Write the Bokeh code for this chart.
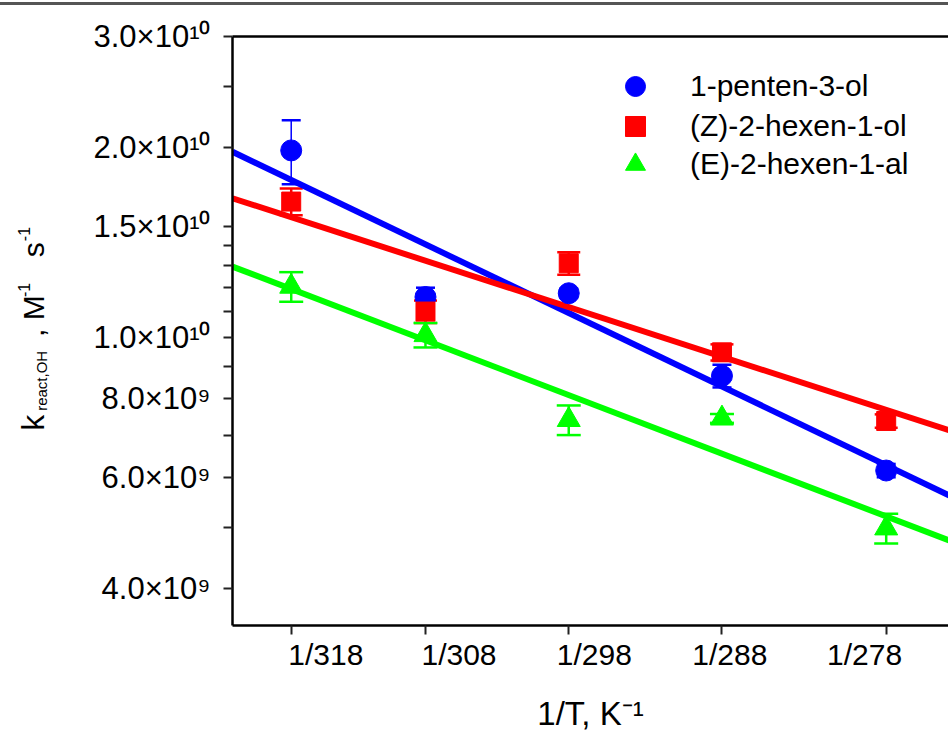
import numpy as np
from bokeh.plotting import figure
from bokeh.models import (Range1d, FixedTicker, LinearAxis, Legend, LegendItem,
                          Whisker, TeeHead, ColumnDataSource, Div)
from bokeh.core.properties import value
from bokeh.layouts import column, row
from bokeh.embed import file_html
from bokeh.resources import INLINE

# ---------------- data ----------------
temperatures_K = [318, 308, 298, 288, 278]
xtick_labels = ["1/318", "1/308", "1/298", "1/288", "1/278"]
series_names = ["1-penten-3-ol", "(Z)-2-hexen-1-ol", "(E)-2-hexen-1-al"]

k_pentenol = [1.98e10, 1.16e10, 1.176e10, 8.70e9, 6.16e9]
err_pentenol = [2.3e9, 4.0e8, 2.0e8, 3.6e8, 1.5e8]
k_hexenol = [1.643e10, 1.10e10, 1.312e10, 9.48e9, 7.38e9]
err_hexenol = [8.0e8, 4.5e8, 5.4e8, 2.8e8, 1.8e8]
k_hexenal = [1.205e10, 1.01e10, 7.41e9, 7.45e9, 4.99e9]
err_hexenal = [6.5e8, 4.5e8, 4.0e8, 1.2e8, 2.7e8]

# Arrhenius fit lines, values read at the ends of the 1/T axis
fit_invT = [0.0031, 0.00365]
fit_pentenol = [1.970e10, 5.56e9]
fit_hexenol = [1.663e10, 7.08e9]
fit_hexenal = [1.296e10, 4.73e9]

y_major = [4e9, 6e9, 8e9, 1e10, 1.5e10, 2e10, 3e10]
y_major_labels = ["4.0×10⁹", "6.0×10⁹", "8.0×10⁹", "1.0×10¹⁰",
                  "1.5×10¹⁰", "2.0×10¹⁰", "3.0×10¹⁰"]
y_minor = [5e9, 7e9, 9e9, 1.1e10, 1.2e10, 1.3e10, 1.4e10, 2.5e10]

inv_T = [1.0 / t for t in temperatures_K]

# ---------------- layout ----------------
FONT = "Liberation Sans"
RULE_H = 6
PAGE_W, PAGE_H = 948, 734
TITLE_W = 60                              # narrow panel holding the y title
FRAME_LEFT, FRAME_TOP = 232, 36           # page pixels
FRAME_W, FRAME_H = 716, 590
X0, X1 = 0.0031, 0.0036445
Y0, Y1 = 3.5e9, 3.0e10

MAIN_W = PAGE_W - TITLE_W
MAIN_H = PAGE_H - RULE_H
BORDER_TOP = FRAME_TOP - RULE_H
BORDER_BOTTOM = MAIN_H - BORDER_TOP - FRAME_H

p = figure(width=MAIN_W, height=MAIN_H, y_axis_type="log",
           x_range=Range1d(X0, X1), y_range=Range1d(Y0, Y1),
           output_backend="svg", toolbar_location=None,
           min_border_left=FRAME_LEFT - TITLE_W, min_border_right=0,
           min_border_top=BORDER_TOP, min_border_bottom=BORDER_BOTTOM)
p.outline_line_color = None
p.grid.visible = False
p.background_fill_color = "white"
p.border_fill_color = "white"

# y axis
ya = p.yaxis[0]
ya.ticker = FixedTicker(ticks=y_major, minor_ticks=y_minor)
ya.major_label_overrides = {float(v): s for v, s in zip(y_major, y_major_labels)}
ya.axis_line_width = 2.5
ya.axis_line_color = "black"
ya.major_tick_in = 0
ya.major_tick_out = 9
ya.minor_tick_in = 0
ya.minor_tick_out = 9
ya.major_tick_line_width = 2
ya.minor_tick_line_width = 2
ya.major_tick_line_color = "#222222"
ya.minor_tick_line_color = "#222222"
ya.major_label_standoff = 13
ya.major_label_text_font = FONT
ya.major_label_text_font_size = "31px"
ya.major_label_text_color = "black"

# x axis: tick marks at the 1/T values
xa = p.xaxis[0]
xa.ticker = FixedTicker(ticks=inv_T, minor_ticks=[])
xa.major_label_overrides = {float(v): "" for v in inv_T}
xa.axis_line_width = 2.5
xa.axis_line_color = "black"
xa.major_tick_in = 0
xa.major_tick_out = 9
xa.major_tick_line_width = 2
xa.major_tick_line_color = "#222222"
xa.major_label_text_font_size = "1px"
xa.major_label_standoff = 0

# second bottom axis: the tick labels (evenly spaced in the original) + title
xtick_label_pos = [X0 + (px - FRAME_LEFT) * (X1 - X0) / FRAME_W
                   for px in (325.3, 458.5, 593.8, 729.3, 864.1)]
xb = LinearAxis(ticker=FixedTicker(ticks=xtick_label_pos, minor_ticks=[]),
                major_label_overrides={float(v): s for v, s in
                                       zip(xtick_label_pos, xtick_labels)},
                axis_line_color=None, major_tick_out=0, major_tick_in=0,
                major_label_standoff=3,
                major_label_text_font=FONT, major_label_text_font_size="30px",
                major_label_text_color="black",
                axis_label="1/T, K⁻¹", axis_label_standoff=21,
                axis_label_text_font=FONT, axis_label_text_font_size="33px",
                axis_label_text_font_style="normal",
                axis_label_text_color="black")
p.add_layout(xb, "below")

# top frame line
top = LinearAxis(ticker=FixedTicker(ticks=[]), axis_line_width=2.5,
                 axis_line_color="black", major_label_text_font_size="1px",
                 major_tick_out=0, major_tick_in=0)
p.add_layout(top, "above")

# fit lines
colors = ["#0000FF", "#FF0000", "#00FF00"]
for fit, c in zip([fit_pentenol, fit_hexenol, fit_hexenal], colors):
    p.line(fit_invT, fit, line_color=c, line_width=6)

# error bars
err_width = [1.5, 2.5, 2.5]
cap_size = [19, 23, 24]
for k, e, c, w, cs in zip([k_pentenol, k_hexenol, k_hexenal],
                          [err_pentenol, err_hexenol, err_hexenal],
                          colors, err_width, cap_size):
    src = ColumnDataSource(dict(x=inv_T,
                                upper=[a + b for a, b in zip(k, e)],
                                lower=[a - b for a, b in zip(k, e)]))
    wk = Whisker(source=src, base="x", upper="upper", lower="lower",
                 dimension="height", line_color=c, line_width=w,
                 upper_head=TeeHead(size=cs, line_color=c, line_width=2.5),
                 lower_head=TeeHead(size=cs, line_color=c, line_width=2.5))
    p.add_layout(wk)

# markers
r1 = p.scatter(inv_T, k_pentenol, marker="circle", size=21,
               fill_color=colors[0], line_color=colors[0])
r2 = p.scatter(inv_T, k_hexenol, marker="square", size=19,
               fill_color=colors[1], line_color=colors[1])
r3 = p.scatter(inv_T, k_hexenal, marker="triangle", size=23,
               fill_color=colors[2], line_color=colors[2])

# legend: one single-item legend per row (keeps marker size and row pitch)
legend_row_center = [87, 126.5, 165]      # page pixels
for name, r, cy in zip(series_names, [r1, r2, r3], legend_row_center):
    lg = Legend(items=[LegendItem(label=name, renderers=[r])],
                location=(378, FRAME_TOP + FRAME_H - (cy + 25)),
                glyph_width=50, glyph_height=50, spacing=0,
                label_standoff=30, padding=0, margin=0,
                label_text_font=FONT, label_text_font_size="30px",
                label_text_color="black",
                border_line_color=None, background_fill_alpha=0)
    p.add_layout(lg)

# ---------------- y axis title panel (page-pixel coordinates) ----------------
# same top/bottom borders as the main plot, so its frame spans page y 36..626
t = figure(width=TITLE_W, height=MAIN_H, x_range=Range1d(0, TITLE_W),
           y_range=Range1d(FRAME_TOP + FRAME_H, FRAME_TOP),
           output_backend="svg", toolbar_location=None,
           x_axis_location=None, y_axis_location=None,
           min_border_left=0, min_border_right=0,
           min_border_top=BORDER_TOP, min_border_bottom=BORDER_BOTTOM)
t.outline_line_color = None
t.grid.visible = False
t.border_fill_color = "white"
t.background_fill_color = "white"

# pieces of "k_react,OH, M^-1 s^-1", vertically centred on their own line
ytitle_text = ["k", "react,OH", ", M", "-1", "s", "-1"]
ytitle_size = ["32px", "15px", "30px", "16px", "30px", "16px"]
ytitle_mid_x = [32, 41, 32.5, 23, 32.5, 23]
ytitle_start_y = [431, 411, 337, 297, 257, 241]
tsrc = ColumnDataSource(dict(x=ytitle_mid_x, y=ytitle_start_y,
                             text=ytitle_text, size=ytitle_size))
t.text(x="x", y="y", text="text", source=tsrc, angle=np.pi / 2,
       text_font=value(FONT), text_font_size="size",
       text_align="left", text_baseline="middle", text_color="black")

rule = Div(text="", width=PAGE_W, height=RULE_H, margin=0,
           styles={"background": "linear-gradient(#ffffff 0px, #ffffff 2px, #555555 2px, #555555 5px, #ffffff 5px)"})

layout = column(rule, row(t, p, spacing=0), spacing=0)
open("out.html", "w").write(file_html(layout, INLINE))
